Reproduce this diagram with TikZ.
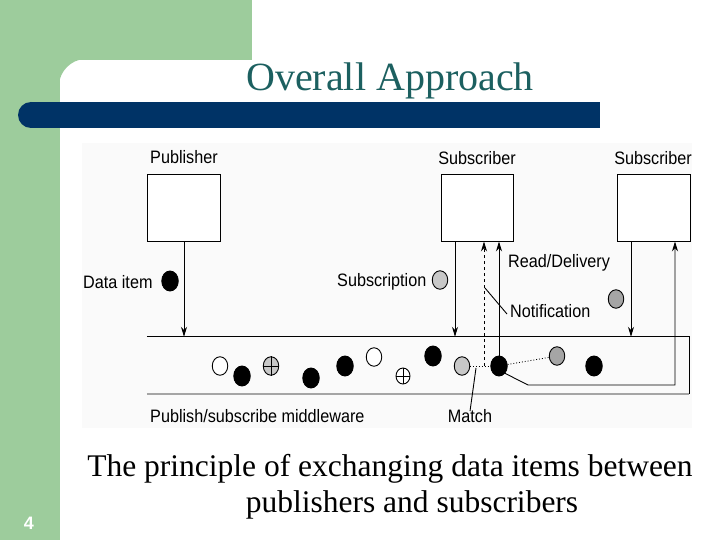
\documentclass[tikz,border=0pt]{standalone}
\usepackage{fontspec}
\setmainfont{Liberation Serif}
\setsansfont{Liberation Sans}
\newfontfamily\diagsans[FakeStretch=0.9]{Liberation Sans}
\usetikzlibrary{shapes.geometric,arrows.meta}
\definecolor{slidegreen}{RGB}{157,204,156}
\definecolor{barblue}{RGB}{0,51,102}
\definecolor{titleteal}{RGB}{28,96,96}
\definecolor{ltgray}{RGB}{200,200,200}
\definecolor{mdgray}{RGB}{165,165,165}
\definecolor{diagbg}{RGB}{250,250,250}
\tikzset{
  entity/.style={draw=black, line width=0.9pt, fill=white, minimum width=73pt, minimum height=67pt, inner sep=0pt},
  lbl/.style={font=\diagsans\fontsize{18}{20}\selectfont, inner sep=0pt},
  ball/.style={ellipse, draw=black, line width=0.9pt, minimum width=15.5pt, minimum height=18.5pt, inner sep=0pt},
  blk/.style={ball, fill=black, minimum width=16.5pt, minimum height=20pt},
  wht/.style={ball, fill=white},
  lgy/.style={ball, fill=ltgray},
  mgy/.style={ball, fill=mdgray},
  conn/.style={line width=0.9pt, -{Stealth[length=10pt,width=6pt]}},
  wire/.style={line width=0.9pt},
}
\begin{document}
\begin{tikzpicture}[x=1pt,y=-1pt]
\useasboundingbox (0,0) rectangle (720,540);
% slide background
\fill[white] (0,0) rectangle (720,540);
\fill[slidegreen] (0,0) rectangle (252,60);
\fill[slidegreen] (0,0) rectangle (60,540);
\fill[slidegreen] (59,59) -- (84,59) .. controls (71,60) and (60,71) .. (59,84) -- cycle;
\fill[barblue] (31,102) rectangle (600,128);
\fill[barblue] (31,115) circle (13);
\node[anchor=base, text=titleteal, font=\fontsize{40}{44}\selectfont, inner sep=0pt] (title) at (390,91) {Overall Approach};
\node[text=white, font=\sffamily\bfseries\fontsize{18}{20}\selectfont, inner sep=0pt] (pgnum) at (29,523) {4};
% diagram background
\fill[diagbg] (82,143) rectangle (692,428);
% middleware
\node[minimum width=542pt, minimum height=57pt, inner sep=0pt] (mw) at (418,365.5) {};
\draw[line width=0.9pt] (mw.north west) -- (mw.north east) -- (mw.south east);
\draw[line width=1.6pt, draw=mdgray] (mw.south west) -- (mw.south east);
% entities
\node[entity] (pub) at (184,207.5) {};
\node[entity, minimum width=72pt] (sub1) at (477,207.5) {};
\node[entity] (sub2) at (653.5,207.5) {};
\node[lbl] (publbl) at (184,157) {Publisher};
\node[lbl] (s1lbl) at (477,158) {Subscriber};
\node[lbl] (s2lbl) at (653,158) {Subscriber};
% loose items
\node[lbl, anchor=west] (ditxt) at (83,282) {Data item};
\node[blk] (di) at (170,281) {};
\node[lbl, anchor=west] (subtxt) at (337,282) {Subscription};
\node[lgy] (sc) at (440,280) {};
\node[lbl, anchor=west] (rdtxt) at (508,263) {Read/Delivery};
\node[lbl, anchor=west] (nftxt) at (510,311) {Notification};
\node[mgy] (g2) at (616,299) {};
\node[lbl, anchor=west] (mwtxt) at (150,416) {Publish/subscribe middleware};
\node[lbl] (mtxt) at (470,416) {Match};
% items in middleware
\node[wht] (w1) at (220,366) {};
\node[blk] (b1) at (242,376) {};
\node[lgy] (x1) at (271,366) {};
\draw[wire] (x1.north) -- (x1.south) (x1.west) -- (x1.east);
\node[blk] (b2) at (311,378) {};
\node[blk] (b3) at (345,366) {};
\node[wht] (w2) at (374,357) {};
\node[wht, minimum width=14pt, minimum height=16pt] (x2) at (403,376) {};
\draw[wire] (x2.north) -- (x2.south) (x2.west) -- (x2.east);
\node[blk] (b4) at (433,356) {};
\node[lgy] (lg) at (462,366) {};
\node[blk] (b5) at (499,366) {};
\node[mgy] (g1) at (557,356) {};
\node[blk] (b6) at (594,366) {};
% connectors
\draw[conn] (pub.south) -- (pub.south |- mw.north);
\draw[conn] ([xshift=-22pt]sub1.south) -- ([xshift=-22pt]sub1.south |- mw.north);
\draw[conn] ([xshift=-22.5pt]sub2.south) -- ([xshift=-22.5pt]sub2.south |- mw.north);
\coordinate (mp) at (484,366);
\draw[wire, dotted] (lg.east) -- (b5.west);
\draw[conn, dashed] (mp) -- (mp |- sub1.south);
\draw[conn] (b5.north) -- (b5.north |- sub1.south);
\draw[wire, dotted] (b5) -- (g1);
\coordinate (dk) at (528,385);
\coordinate (rt) at (675,385);
\draw[conn] (b5.south east) -- (dk) -- (rt) -- (rt |- sub2.south);
% leaders
\coordinate (ml) at (476,368);
\draw[wire] (ml) -- ([yshift=-2pt]mtxt.north);
\coordinate (nl) at (485,288);
\draw[wire] (nl) -- ([xshift=-3pt,yshift=-3pt]nftxt.west);
% caption
\node[anchor=base, font=\fontsize{31.5}{36}\selectfont, inner sep=0pt] (cap1) at (390,476) {The principle of exchanging data items between};
\node[anchor=base, font=\fontsize{31.5}{36}\selectfont, inner sep=0pt] (cap2) at (412,512) {publishers and subscribers};
\end{tikzpicture}
\end{document}
